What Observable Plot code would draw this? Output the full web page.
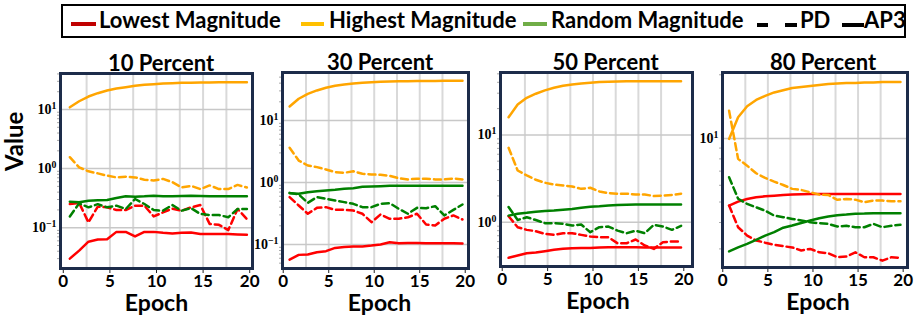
<!DOCTYPE html>
<html>
<head>
<meta charset="utf-8">
<script src="https://cdn.jsdelivr.net/npm/d3@7"></script>
<script src="https://cdn.jsdelivr.net/npm/@observablehq/plot@0.6"></script>
<style>
  body { margin: 0; background: #fff; }
  #root { position: relative; width: 919px; height: 320px; overflow: hidden; font-family: Lato, "Open Sans", sans-serif; }
  .panel { position: absolute; top: 40px; }
  .panel svg { overflow: visible; background: transparent; }
  #legend { position: absolute; left: 61px; top: 4px; width: 845px; height: 34px; border: 2px solid #000; box-sizing: border-box; }
  .sw { position: absolute; height: 4px; top: 20px; }
  .lt { position: absolute; top: 6px; font-weight: bold; font-size: 22px; line-height: 26px; color: #000; white-space: nowrap; }
</style>
</head>
<body>
<div id="root"><div id="legend"></div></div>
<script>
// ---- data ----
const epochs = [0.7, 1.7, 2.7, 3.7, 4.7, 5.7, 6.7, 7.7, 8.7, 9.7, 10.7, 11.7, 12.7, 13.7, 14.7, 15.7, 16.7, 17.7, 18.7, 19.7];

const panelTitles = ["10 Percent", "30 Percent", "50 Percent", "80 Percent"];
const methods = ["Lowest Magnitude", "Highest Magnitude", "Random Magnitude"];
const lineStyles = ["AP3", "PD"];
const yTickValues = [[0.1, 1, 10], [0.1, 1, 10], [1, 10], [10]];
const xTickValues = [0, 5, 10, 15, 20];

// 10 percent
const p10LowestAP3  = [0.030, 0.041, 0.058, 0.063, 0.064, 0.085, 0.085, 0.071, 0.085, 0.085, 0.082, 0.080, 0.082, 0.083, 0.078, 0.078, 0.078, 0.078, 0.077, 0.076];
const p10LowestPD   = [0.252, 0.263, 0.123, 0.227, 0.221, 0.199, 0.199, 0.236, 0.236, 0.155, 0.182, 0.210, 0.194, 0.221, 0.242, 0.116, 0.112, 0.091, 0.207, 0.140];
const p10HighestAP3 = [10.9, 13.8, 16.6, 18.9, 21.0, 22.7, 23.9, 25.2, 26.2, 26.8, 27.6, 27.9, 28.3, 28.5, 28.7, 28.7, 28.9, 28.9, 29.0, 29.0];
const p10HighestPD  = [1.56, 1.05, 0.90, 0.83, 0.76, 0.71, 0.73, 0.71, 0.65, 0.63, 0.67, 0.59, 0.48, 0.51, 0.45, 0.52, 0.45, 0.45, 0.53, 0.48];
const p10RandomAP3  = [0.276, 0.270, 0.287, 0.292, 0.294, 0.318, 0.340, 0.335, 0.340, 0.348, 0.340, 0.340, 0.343, 0.348, 0.343, 0.340, 0.340, 0.340, 0.340, 0.340];
const p10RandomPD   = [0.155, 0.258, 0.221, 0.250, 0.221, 0.236, 0.207, 0.306, 0.252, 0.199, 0.194, 0.242, 0.194, 0.215, 0.171, 0.164, 0.164, 0.150, 0.207, 0.207];

// 30 percent
const p30LowestAP3  = [0.057, 0.068, 0.069, 0.075, 0.078, 0.088, 0.091, 0.093, 0.093, 0.096, 0.100, 0.109, 0.105, 0.106, 0.106, 0.105, 0.105, 0.105, 0.105, 0.104];
const p30LowestPD   = [0.58, 0.426, 0.313, 0.39, 0.40, 0.362, 0.362, 0.353, 0.313, 0.229, 0.305, 0.26, 0.26, 0.275, 0.313, 0.21, 0.203, 0.26, 0.294, 0.253];
const p30HighestAP3 = [16.8, 22.4, 26.9, 30.5, 33.7, 36.3, 38.1, 39.5, 40.6, 41.5, 42.1, 42.6, 43.1, 43.1, 43.3, 43.4, 43.5, 43.6, 43.6, 43.6];
const p30HighestPD  = [3.62, 2.26, 1.88, 1.77, 1.62, 1.47, 1.43, 1.52, 1.38, 1.35, 1.33, 1.28, 1.17, 1.12, 1.15, 1.15, 1.12, 1.12, 1.16, 1.12];
const p30RandomAP3  = [0.673, 0.656, 0.698, 0.725, 0.745, 0.762, 0.790, 0.810, 0.852, 0.865, 0.873, 0.884, 0.884, 0.884, 0.884, 0.884, 0.884, 0.884, 0.884, 0.884];
const p30RandomPD   = [0.68, 0.64, 0.47, 0.58, 0.545, 0.513, 0.482, 0.453, 0.40, 0.40, 0.453, 0.464, 0.376, 0.313, 0.39, 0.385, 0.415, 0.294, 0.362, 0.442];

// 50 percent
const p50LowestAP3  = [0.391, 0.416, 0.442, 0.450, 0.466, 0.483, 0.496, 0.504, 0.508, 0.508, 0.512, 0.517, 0.517, 0.517, 0.515, 0.514, 0.513, 0.512, 0.512, 0.512];
const p50LowestPD   = [1.17, 0.877, 0.817, 0.789, 0.736, 0.716, 0.748, 0.748, 0.716, 0.686, 0.673, 0.673, 0.574, 0.574, 0.634, 0.541, 0.495, 0.590, 0.601, 0.601];
const p50HighestAP3 = [15.9, 22.3, 26.6, 29.6, 32.3, 34.6, 36.5, 37.8, 38.8, 39.5, 40.2, 40.5, 40.9, 41.0, 41.2, 41.2, 41.2, 41.2, 41.2, 41.2];
const p50HighestPD  = [7.11, 3.91, 3.43, 3.06, 2.83, 2.70, 2.63, 2.56, 2.41, 2.48, 2.25, 2.15, 2.12, 2.12, 2.08, 2.08, 1.99, 2.02, 2.05, 2.12];
const p50RandomAP3  = [1.19, 1.25, 1.28, 1.32, 1.34, 1.36, 1.39, 1.42, 1.46, 1.50, 1.52, 1.55, 1.57, 1.58, 1.59, 1.60, 1.60, 1.60, 1.60, 1.60];
const p50RandomPD   = [1.49, 1.06, 1.14, 1.06, 0.975, 0.975, 0.96, 0.916, 0.94, 0.768, 0.877, 0.892, 0.80, 0.748, 0.80, 0.748, 0.933, 0.892, 0.817, 0.908];

// 80 percent
const p80LowestAP3  = [4.81, 5.02, 5.17, 5.27, 5.32, 5.36, 5.40, 5.42, 5.44, 5.46, 5.46, 5.46, 5.46, 5.46, 5.46, 5.46, 5.46, 5.46, 5.46, 5.46];
const p80LowestPD   = [4.81, 3.80, 3.47, 3.29, 3.21, 3.14, 3.09, 3.05, 2.95, 3.00, 2.89, 2.86, 2.74, 2.76, 2.89, 2.74, 2.74, 2.64, 2.74, 2.72];
const p80HighestAP3 = [9.94, 12.6, 14.2, 15.2, 15.9, 16.5, 16.9, 17.3, 17.5, 17.7, 17.9, 18.1, 18.2, 18.3, 18.3, 18.4, 18.4, 18.5, 18.5, 18.5];
const p80HighestPD  = [13.5, 8.0, 7.43, 6.84, 6.50, 6.24, 6.02, 5.77, 5.70, 5.56, 5.42, 5.40, 5.12, 5.17, 5.13, 4.99, 5.08, 5.08, 5.04, 5.04];
const p80RandomAP3  = [2.92, 3.05, 3.17, 3.31, 3.47, 3.60, 3.78, 3.87, 3.98, 4.09, 4.19, 4.27, 4.33, 4.36, 4.40, 4.41, 4.43, 4.43, 4.43, 4.43];
const p80RandomPD   = [6.55, 5.18, 4.90, 4.72, 4.55, 4.31, 4.24, 4.16, 4.09, 4.01, 3.97, 3.94, 3.83, 3.86, 3.80, 3.80, 3.94, 3.80, 3.86, 3.90];

const series = [
  [[p10LowestAP3, p10LowestPD], [p10HighestAP3, p10HighestPD], [p10RandomAP3, p10RandomPD]],
  [[p30LowestAP3, p30LowestPD], [p30HighestAP3, p30HighestPD], [p30RandomAP3, p30RandomPD]],
  [[p50LowestAP3, p50LowestPD], [p50HighestAP3, p50HighestPD], [p50RandomAP3, p50RandomPD]],
  [[p80LowestAP3, p80LowestPD], [p80HighestAP3, p80HighestPD], [p80RandomAP3, p80RandomPD]]
];

// ---- styles / layout ----
const lineColors = ["#ff0000", "#ffa500", "#008000"];
const legendColors = ["#c00000", "#ffc000", "#70ad47"];
const dashes = [null, "7,4"];

const layout = [
  {left: 0,   width: 262, ml: 60, mr: 10, mt: 33, mb: 52, x: [-0.3, 20.3],   y: [0.0204, 40.7], tdx: 4.5, edx: 0},
  {left: 252, width: 220, ml: 30, mr: 4,  mt: 32, mb: 52, x: [-0.08, 20.36], y: [0.041, 59.4],  tdx: 4.5, edx: 4},
  {left: 472, width: 224, ml: 28, mr: 4,  mt: 32, mb: 54, x: [-0.19, 20.96], y: [0.311, 51.8],  tdx: 9,   edx: 1.5},
  {left: 696, width: 223, ml: 26, mr: 12, mt: 32, mb: 53, x: [-0.03, 20.48], y: [2.45, 20.5],   tdx: 8,   edx: 3}
];

const root = document.getElementById("root");

function minorTicks(domain) {
  const out = [];
  for (let e = -3; e <= 3; e++) {
    for (let m = 2; m <= 9; m++) {
      const v = m * Math.pow(10, e);
      if (v >= domain[0] && v <= domain[1]) out.push(v);
    }
  }
  return out;
}

panelTitles.forEach((title, p) => {
  const L = layout[p];
  const marks = [
    Plot.gridX({ticks: [2.5, 5, 7.5, 10, 12.5, 15, 17.5], stroke: "#d9d9d9", strokeOpacity: 1, strokeWidth: 2}),
    Plot.gridY({ticks: yTickValues[p], stroke: "#c8c8c8", strokeOpacity: 1, strokeWidth: 1.5})
  ];
  methods.forEach((m, mi) => {
    lineStyles.forEach((s, si) => {
      const vals = series[p][mi][si];
      const rows = epochs.map((e, i) => ({epoch: e, value: vals[i]}));
      const opts = {x: "epoch", y: "value", stroke: lineColors[mi], strokeWidth: 2.5};
      if (dashes[si]) opts.strokeDasharray = dashes[si];
      marks.push(Plot.line(rows, opts));
    });
  });
  marks.push(
    Plot.axisX({ticks: xTickValues, tickSize: 5, tickPadding: 1, fontSize: 17, fontWeight: "bold", stroke: "#222", label: null}),
    Plot.axisY({ticks: minorTicks(L.y), tickSize: 3, tickFormat: () => "", stroke: "#aaa", label: null}),
    Plot.axisY({ticks: yTickValues[p], tickSize: 0, tickPadding: 4, fontSize: 14, fontWeight: "bold",
                fontFamily: "Liberation Serif, DejaVu Serif, serif", label: null,
                tickFormat: d => String(Math.round(Math.log10(d)))}),
    Plot.frame({stroke: "#1d2c4a", strokeWidth: 3}),
    Plot.text([title], {frameAnchor: "top", dy: -10, dx: L.tdx, lineAnchor: "middle", fontSize: 22, fontWeight: "bold", fill: "#000"}),
    Plot.text(["Epoch"], {frameAnchor: "bottom", dy: 35, dx: L.edx, lineAnchor: "middle", fontSize: 23, fontWeight: "bold", fill: "#000"})
  );
  if (p === 0) {
    marks.push(Plot.text(["Value"], {frameAnchor: "left", dx: -45, rotate: -90, lineAnchor: "middle", fontSize: 24, fontWeight: "bold", fill: "#000"}));
  }
  const svg = Plot.plot({
    width: L.width, height: 280,
    marginLeft: L.ml, marginRight: L.mr, marginTop: L.mt, marginBottom: L.mb,
    x: {type: "linear", domain: L.x, label: null},
    y: {type: "log", domain: L.y, label: null},
    style: {fontFamily: "Lato, 'Open Sans', sans-serif", color: "#000", background: "transparent", overflow: "visible"},
    marks
  });
  // superscript exponents on y tick labels
  d3.select(svg).selectAll('g[aria-label="y-axis tick label"] text').each(function() {
    const e = this.textContent;
    if (!e) return;
    const t = d3.select(this);
    t.text("");
    t.append("tspan").text("10");
    t.append("tspan").attr("dy", "-0.5em").attr("font-size", "0.7em").text(e.replace("-", "\u2212"));
  });
  const div = document.createElement("div");
  div.className = "panel";
  div.style.left = L.left + "px";
  div.appendChild(svg);
  root.appendChild(div);
});

// ---- legend ----
const legendLabels = ["Lowest Magnitude", "Highest Magnitude", "Random Magnitude", "PD", "AP3"];
const legendSwatchColors = [legendColors[0], legendColors[1], legendColors[2], "#000", "#000"];
const legendPos = [
  {sw: [71, 96], tx: 99},
  {sw: [301, 324], tx: 329},
  {sw: [523, 547], tx: 551},
  {sw: [757, 797], tx: 800, dash: true},
  {sw: [842, 864], tx: 864}
];
const legend = document.getElementById("legend");
legendLabels.forEach((lab, i) => {
  const P = legendPos[i];
  if (P.dash) {
    [[P.sw[0], P.sw[0] + 11], [P.sw[1] - 12, P.sw[1]]].forEach(seg => {
      const s = document.createElement("div");
      s.className = "sw";
      s.style.left = (seg[0] - 63) + "px";
      s.style.width = (seg[1] - seg[0]) + "px";
      s.style.background = legendSwatchColors[i];
      s.style.top = "17px";
      legend.appendChild(s);
    });
  } else {
    const s = document.createElement("div");
    s.className = "sw";
    s.style.left = (P.sw[0] - 63) + "px";
    s.style.width = (P.sw[1] - P.sw[0]) + "px";
    s.style.background = legendSwatchColors[i];
    s.style.top = (i < 3 ? 16 : 17) + "px";
    legend.appendChild(s);
  }
  const t = document.createElement("div");
  t.className = "lt";
  t.style.left = (P.tx - 63) + "px";
  t.style.top = "1px";
  t.textContent = lab;
  legend.appendChild(t);
});
</script>
</body>
</html>
